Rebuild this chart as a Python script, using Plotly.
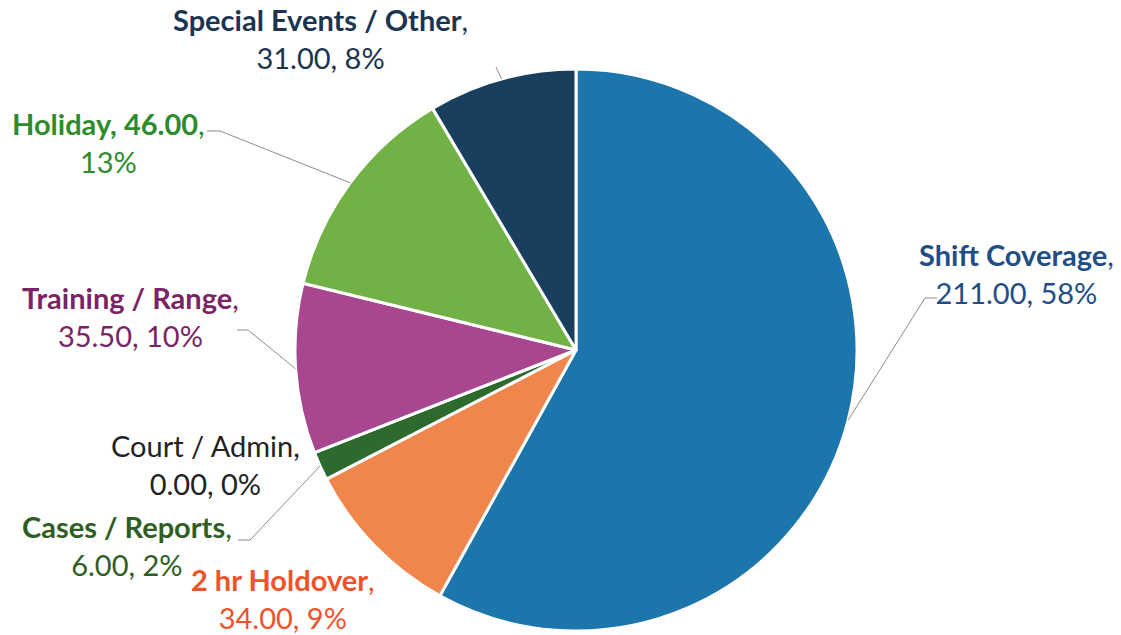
import math
import plotly.graph_objects as go

categories = ["Shift Coverage", "2 hr Holdover", "Cases / Reports", "Court / Admin",
              "Training / Range", "Holiday", "Special Events / Other"]
values = [211.00, 34.00, 6.00, 0.00, 35.50, 46.00, 31.00]
percent_labels = [58, 9, 2, 0, 10, 13, 8]
slice_colors = ["#1C75AB", "#F0864C", "#2C6A2E", "#2C6A2E", "#A8468F", "#72B146", "#183F5E"]
label_colors = ["#1F4E86", "#F0522A", "#2E5E22", "#222222", "#7A2466", "#2E8B2E", "#1B3550"]

W, H = 1121, 635
CX, CY, R = 576, 350, 281

# label layout (pixel positions of label centres) and leader-line elbows
label_pos = {
    "Shift Coverage": (1016, 273),
    "2 hr Holdover": (283, 598),
    "Cases / Reports": (127, 545),
    "Court / Admin": (205, 464),
    "Training / Range": (130, 316),
    "Holiday": (108, 142),
    "Special Events / Other": (320, 39),
}
leader = {
    "Shift Coverage": [(937, 298), (925, 298)],
    "Cases / Reports": [(238, 540), (250, 540)],
    "Training / Range": [(237, 330), (248, 330)],
    "Holiday": [(207, 131), (220, 131)],
    "Special Events / Other": [(496, 67)],
}

total = sum(values)

def label_text(name, v, p):
    if name == "Holiday":
        return f"<b>{name}, {v:.2f}</b>,<br>{p}%"
    if name == "Court / Admin":
        return f"{name},<br>{v:.2f}, {p}%"
    return f"<b>{name}</b>,<br>{v:.2f}, {p}%"

fig = go.Figure(go.Pie(
    labels=categories, values=values, sort=False, direction="clockwise", rotation=0,
    marker=dict(colors=slice_colors, line=dict(color="white", width=3)),
    textinfo="none", hoverinfo="label+value+percent", showlegend=False,
    domain=dict(x=[(CX - R) / W, (CX + R) / W], y=[1 - (CY + R) / H, 1 - (CY - R) / H]),
))

def px2paper(x, y):
    return x / W, 1 - y / H

annotations = []
shapes = []
cum = 0.0
for name, v, p, col in zip(categories, values, percent_labels, label_colors):
    mid = (cum + v / 2) / total
    cum += v
    lx, ly = label_pos[name]
    ax_, ay_ = px2paper(lx, ly)
    annotations.append(dict(
        x=ax_, y=ay_, xref="paper", yref="paper", showarrow=False,
        text=label_text(name, v, p), align="center",
        font=dict(family="Lato, 'Open Sans', sans-serif", size=29, color=col),
        xanchor="center", yanchor="middle",
    ))
    if name in leader:
        ang = 2 * math.pi * mid
        ex = CX + R * math.sin(ang)
        ey = CY - R * math.cos(ang)
        pts = leader[name] + [(ex, ey)]
        for (x0, y0), (x1, y1) in zip(pts[:-1], pts[1:]):
            a0 = px2paper(x0, y0)
            a1 = px2paper(x1, y1)
            shapes.append(dict(type="line", xref="paper", yref="paper",
                               x0=a0[0], y0=a0[1], x1=a1[0], y1=a1[1],
                               line=dict(color="#8C8C8C", width=1)))

fig.update_layout(
    width=W, height=H, margin=dict(l=0, r=0, t=0, b=0),
    paper_bgcolor="white", plot_bgcolor="white",
    annotations=annotations, shapes=shapes,
)
fig.write_html("out.html", config={"displayModeBar": False},
               post_script="document.body.style.margin='0';document.body.style.overflow='hidden';")
